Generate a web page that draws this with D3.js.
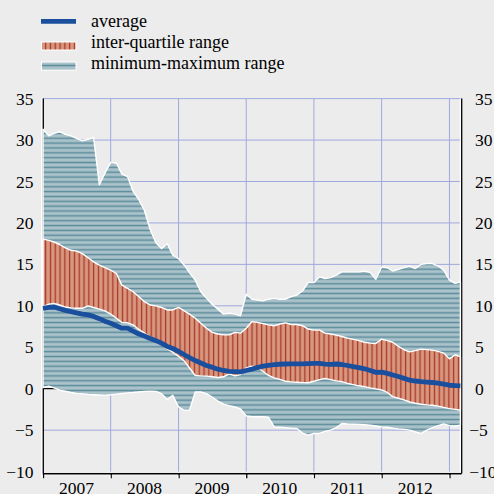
<!DOCTYPE html>
<html><head><meta charset="utf-8">
<script src="https://cdn.jsdelivr.net/npm/d3@7"></script>
<style>html,body{margin:0;padding:0;background:#ececec;}svg{display:block;}</style>
</head><body>
<svg id="chart" width="494" height="494"></svg>
<script>
// ---- data (monthly, Jan 2007 .. Mar 2013) ----
const startDate = Date.UTC(2007, 0, 1);
const yearLabels = ["2007", "2008", "2009", "2010", "2011", "2012"];
const yTickValues = [35, 30, 25, 20, 15, 10, 5, 0, -5, -10];
const legendLabels = ["average", "inter-quartile range", "minimum-maximum range"];

const maxVals = [31.3,30.5,30.8,31.0,30.7,30.5,30.2,29.9,30.1,30.3,24.6,26.0,27.3,27.2,25.9,25.6,23.8,22.8,21.5,19.2,
  17.6,16.9,17.5,16.1,15.7,14.9,14.0,13.1,11.7,10.9,10.2,9.6,9.0,9.1,9.0,8.8,11.4,10.8,10.7,10.6,
  10.8,10.9,10.8,10.8,11.1,11.3,11.8,12.8,12.8,13.5,13.3,13.4,13.7,14.1,14.1,14.1,14.1,14.2,14.0,13.2,
  14.7,14.6,14.2,14.4,14.6,14.8,14.5,15.0,15.1,15.1,14.8,14.3,13.1,12.7,12.9];
const q3Vals = [18.05,17.9,17.7,17.4,17.0,16.7,16.6,16.3,15.8,15.3,14.9,14.6,14.3,13.9,12.5,12.1,11.7,11.1,10.5,10.1,
  10.0,9.8,9.5,9.5,9.8,9.4,9.0,8.5,7.9,7.3,6.8,6.6,6.5,6.5,6.8,6.7,7.3,8.1,8.0,7.85,
  7.7,7.6,7.8,7.95,7.75,7.75,7.6,7.2,7.07,7.07,6.7,6.6,6.47,6.3,6.1,5.95,5.8,5.6,5.5,5.45,
  5.98,5.8,5.6,5.1,4.7,4.45,4.6,4.78,4.72,4.65,4.5,4.3,3.6,4.1,3.85];
const q1Vals = [9.9,10.2,10.3,10.1,9.85,9.75,9.7,9.7,10.0,9.8,9.6,9.4,9.0,8.5,8.0,7.95,7.7,7.15,6.7,6.25,
  5.9,5.5,4.8,4.4,3.9,3.35,2.5,1.6,1.55,1.52,1.45,1.36,1.44,1.8,1.55,1.7,2.5,2.73,2.6,2.1,
  1.6,1.3,1.12,0.9,0.82,0.78,0.74,0.72,0.9,1.1,1.24,1.1,0.95,0.85,0.65,0.5,0.35,0.25,0.1,-0.02,
  -0.15,-0.45,-0.95,-1.15,-1.35,-1.6,-1.75,-1.88,-1.95,-2.0,-2.1,-2.25,-2.4,-2.5,-2.6];
const minVals = [0.15,0.3,0.1,-0.17,-0.3,-0.45,-0.57,-0.62,-0.68,-0.72,-0.75,-0.77,-0.72,-0.65,-0.58,-0.5,-0.45,-0.38,-0.33,-0.3,
  -0.32,-0.6,-1.3,-0.8,-2.2,-2.6,-2.6,-0.4,-0.4,-0.6,-1.0,-1.5,-1.85,-2.05,-2.2,-2.45,-3.3,-3.39,-3.39,-3.39,
  -3.45,-4.6,-4.65,-4.7,-4.75,-4.8,-5.35,-5.6,-5.4,-5.4,-5.15,-5.0,-4.7,-4.2,-4.25,-4.27,-4.3,-4.35,-4.4,-4.5,
  -4.6,-4.65,-4.75,-4.85,-4.9,-5.0,-5.2,-5.4,-5.0,-4.7,-4.45,-4.25,-4.45,-4.5,-4.4];
const avgVals = [9.7,9.8,9.85,9.65,9.45,9.3,9.15,9.0,8.9,8.72,8.45,8.15,7.9,7.6,7.3,7.3,6.95,6.6,6.35,6.05,
  5.8,5.5,5.1,4.85,4.5,4.1,3.75,3.4,3.1,2.8,2.6,2.36,2.2,2.1,2.07,2.04,2.2,2.36,2.55,2.72,
  2.82,2.9,2.95,2.98,3.0,3.0,3.0,3.02,3.05,3.05,2.97,2.93,2.98,2.92,2.8,2.66,2.55,2.4,2.2,1.97,
  2.0,1.85,1.66,1.47,1.25,1.03,0.93,0.85,0.8,0.75,0.68,0.55,0.42,0.38,0.35];

// ---- styles ----
const C = {
  bg: "#ececec", grid: "#a0a8df", axis: "#000",
  mmFill: "#aac2ca", mmStripe: "#5b8c9a",
  iqFill: "#d8977f", iqStripe: "#a8382a",
  avg: "#1a4f9e"
};
const FONT = "'Liberation Serif','Times New Roman',serif";

const svg = d3.select("#chart");
svg.append("rect").attr("width", 494).attr("height", 494).attr("fill", C.bg);

const dates = maxVals.map((_, i) => new Date(Date.UTC(2007, i, 1)));
const x = d3.scaleUtc().domain([new Date(startDate), new Date(Date.UTC(2013, 2, 8))]).range([43, 461.7]);
const y = d3.scaleLinear().domain([-10, 35]).range([471.6, 98.6]);

// patterns
const defs = svg.append("defs");
const ph = defs.append("pattern").attr("id", "hstripe").attr("patternUnits", "userSpaceOnUse")
  .attr("width", 10).attr("height", 4.85);
ph.append("rect").attr("width", 10).attr("height", 4.85).attr("fill", C.mmFill);
ph.append("rect").attr("y", 1.7).attr("width", 10).attr("height", 1.5).attr("fill", C.mmStripe);
const pv = defs.append("pattern").attr("id", "vstripe").attr("patternUnits", "userSpaceOnUse")
  .attr("width", 4.8).attr("height", 10);
pv.append("rect").attr("width", 4.8).attr("height", 10).attr("fill", C.iqFill);
pv.append("rect").attr("x", 1.8).attr("width", 1.3).attr("height", 10).attr("fill", C.iqStripe);

const [x0, x1] = x.range();
const [yb, yt] = y.range();

// grid
const yearStarts = d3.utcYear.range(new Date(Date.UTC(2008, 0, 1)), new Date(Date.UTC(2013, 0, 2)));
svg.append("g").selectAll("line").data(yTickValues.filter(v => v !== 0 && v !== -10)).join("line")
  .attr("x1", x0).attr("x2", x1).attr("y1", d => y(d)).attr("y2", d => y(d))
  .attr("stroke", C.grid).attr("stroke-width", 1);
svg.append("g").selectAll("line").data(yearStarts).join("line")
  .attr("x1", d => x(d)).attr("x2", d => x(d)).attr("y1", yt).attr("y2", yb)
  .attr("stroke", C.grid).attr("stroke-width", 1);

// zero line & axes (beneath data)
svg.append("line").attr("x1", x0).attr("x2", x1).attr("y1", y(0)).attr("y2", y(0))
  .attr("stroke", C.axis).attr("stroke-width", 1.2);
svg.append("line").attr("x1", x0 - 1.3).attr("x2", x0 - 1.3).attr("y1", yt).attr("y2", yb + 5)
  .attr("stroke", "#fff").attr("stroke-width", 1.3);
svg.append("line").attr("x1", x0 + 0.3).attr("x2", x0 + 0.3).attr("y1", yt).attr("y2", yb + 2)
  .attr("stroke", C.axis).attr("stroke-width", 1.3);
svg.append("line").attr("x1", x1 - 1.3).attr("x2", x1 - 1.3).attr("y1", yt).attr("y2", yb)
  .attr("stroke", "#fff").attr("stroke-width", 1.2);
svg.append("line").attr("x1", x1).attr("x2", x1).attr("y1", yt).attr("y2", yb + 2)
  .attr("stroke", C.axis).attr("stroke-width", 1.3);

// bottom axis
const axisY = yb + 1.6;
svg.append("line").attr("x1", x0).attr("x2", x1).attr("y1", axisY + 1.5).attr("y2", axisY + 1.5)
  .attr("stroke", "#fff").attr("stroke-width", 1.3);
const xAxis = d3.axisBottom(x)
  .tickValues(d3.utcYear.range(new Date(startDate), new Date(Date.UTC(2013, 0, 2))))
  .tickSize(5).tickFormat("");
const gx = svg.append("g").attr("transform", `translate(0,${axisY})`).call(xAxis);
gx.select(".domain").attr("d", `M${x0},0.5H${x1}`).attr("stroke", C.axis).attr("stroke-width", 1.4);
gx.selectAll(".tick line").attr("stroke", C.axis).attr("stroke-width", 1.3);
gx.selectAll(".tick").append("line").attr("x1", -1.3).attr("x2", -1.3).attr("y1", 2).attr("y2", 5)
  .attr("stroke", "#fff").attr("stroke-width", 1.2);

// year labels
const labelDates = yearLabels.map(l => new Date(Date.UTC(+l, 6, 1)));
svg.append("g").selectAll("text").data(yearLabels).join("text")
  .attr("x", (d, i) => x(labelDates[i])).attr("y", 494)
  .attr("text-anchor", "middle").attr("font-family", FONT).attr("font-size", 17.5).attr("fill", "#000")
  .text(d => d);

// y labels via axes
const yAxisL = d3.axisLeft(y).tickValues(yTickValues).tickSize(0).tickPadding(0).tickFormat(d3.format("d"));
const gl = svg.append("g").attr("transform", `translate(33.5,0)`).call(yAxisL);
gl.select(".domain").remove();
gl.selectAll("text").attr("font-family", FONT).attr("font-size", 17.5).attr("fill", "#000");
const yAxisR = d3.axisRight(y).tickValues(yTickValues).tickSize(0).tickPadding(0).tickFormat(d3.format("d"));
const gr = svg.append("g").attr("transform", `translate(475,0)`).call(yAxisR);
gr.select(".domain").remove();
gr.selectAll("text").attr("font-family", FONT).attr("font-size", 17.5).attr("fill", "#000")
  .attr("x", d => d < 0 ? -5.8 : 0);

// areas
const mmArea = d3.area().x((d, i) => x(dates[i])).y0((d, i) => y(minVals[i])).y1((d, i) => y(maxVals[i]));
svg.append("path").datum(maxVals).attr("d", mmArea)
  .attr("fill", "url(#hstripe)").attr("stroke", "#fff").attr("stroke-width", 1.4).attr("stroke-linejoin", "round");
const iqArea = d3.area().x((d, i) => x(dates[i])).y0((d, i) => y(q1Vals[i])).y1((d, i) => y(q3Vals[i]));
svg.append("path").datum(q3Vals).attr("d", iqArea)
  .attr("fill", "url(#vstripe)").attr("stroke", "#fff").attr("stroke-width", 1.4).attr("stroke-linejoin", "round");
const avgLine = d3.line().x((d, i) => x(dates[i])).y(d => y(d));
svg.append("path").datum(avgVals).attr("d", avgLine)
  .attr("fill", "none").attr("stroke", C.avg).attr("stroke-width", 4.8).attr("stroke-linejoin", "round");

// legend
const lg = svg.append("g");
const rowY = [21.3, 46, 66];
lg.append("line").attr("x1", 41).attr("x2", 76).attr("y1", rowY[0]).attr("y2", rowY[0])
  .attr("stroke", C.avg).attr("stroke-width", 4.8);
lg.append("rect").attr("x", 41.5).attr("y", rowY[1] - 4).attr("width", 34.5).attr("height", 8)
  .attr("fill", "url(#vstripe)").attr("stroke", "#fff").attr("stroke-width", 1);
lg.append("rect").attr("x", 41.5).attr("y", rowY[2] - 4).attr("width", 34.5).attr("height", 8)
  .attr("fill", "url(#hstripe)").attr("stroke", "#fff").attr("stroke-width", 1);
lg.selectAll("text").data(legendLabels).join("text")
  .attr("x", 91).attr("y", (d, i) => [26.7, 48.3, 69.3][i])
  .attr("font-family", FONT).attr("font-size", 18).attr("fill", "#000").text(d => d);
</script>
</body></html>
